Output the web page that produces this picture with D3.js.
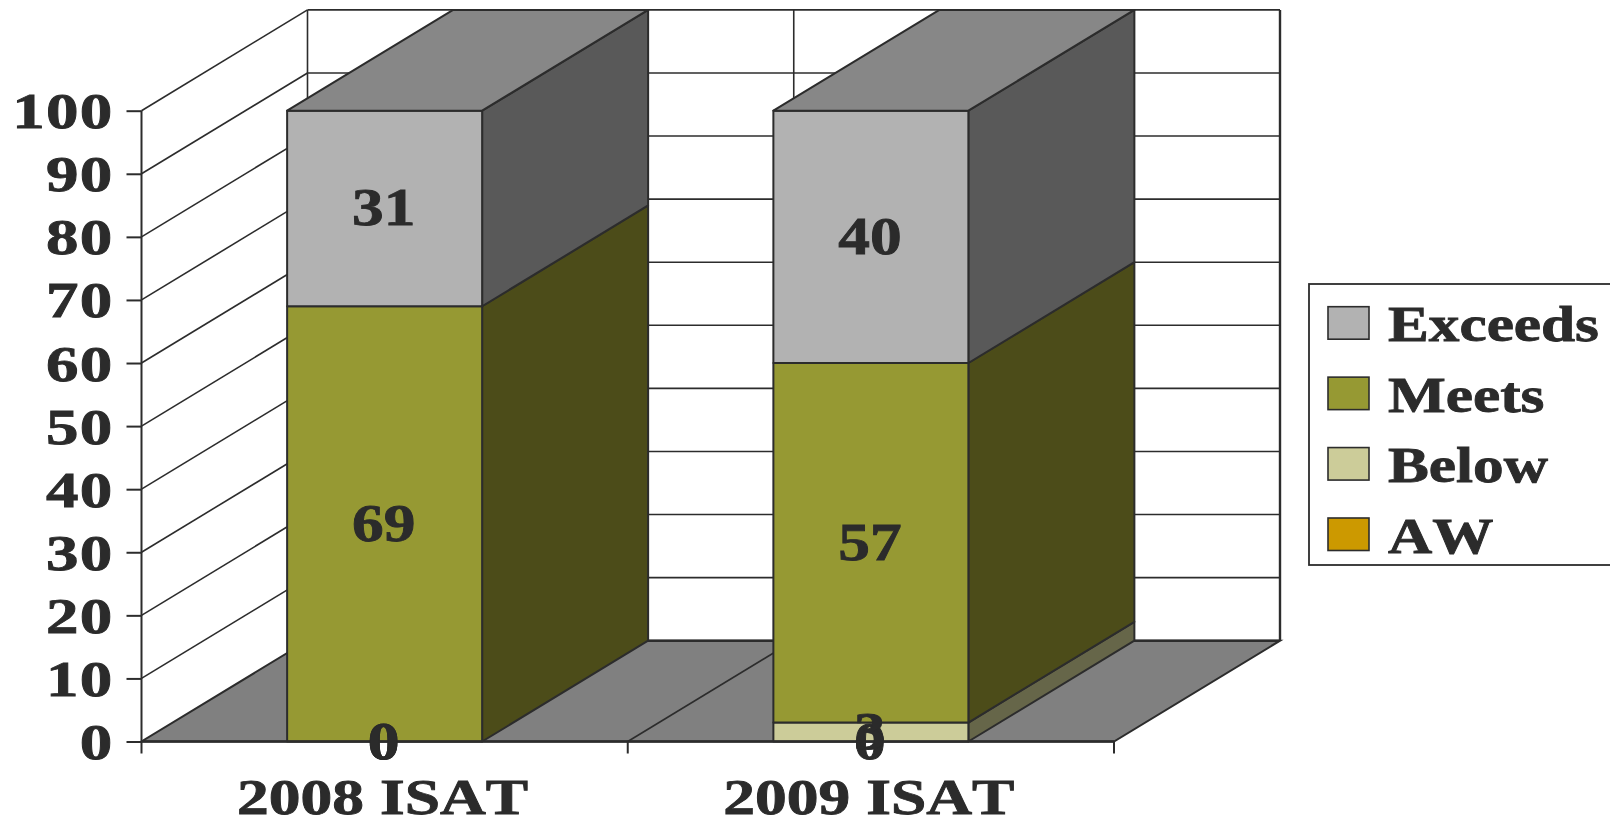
<!DOCTYPE html>
<html>
<head>
<meta charset="utf-8">
<style>
html,body{margin:0;padding:0;background:#fff;overflow:hidden}
svg{display:block}
text{font-family:"Liberation Serif",serif;font-weight:bold;fill:#2b2b2b;stroke:#2b2b2b;stroke-width:0.8px;font-kerning:none}
</style>
<script src="https://cdnjs.cloudflare.com/ajax/libs/d3/7.8.5/d3.min.js"></script>
</head>
<body>
<svg id="chart" width="1610" height="821"></svg>
<script>
// Stacked columns, bottom of the stack first
const categories = ["2008 ISAT", "2009 ISAT"];
const seriesNames = ["AW", "Below", "Meets", "Exceeds"];
const aw = [0, 0];
const below = [0, 3];
const meets = [69, 57];
const exceeds = [31, 40];
const yTicks = [0, 10, 20, 30, 40, 50, 60, 70, 80, 90, 100];
const legendOrder = ["Exceeds", "Meets", "Below", "AW"];

const columns = { AW: aw, Below: below, Meets: meets, Exceeds: exceeds };
const front = { AW: "#cc9900", Below: "#cccc99", Meets: "#969933", Exceeds: "#b2b2b2" };
const side = { AW: "#665000", Below: "#666649", Meets: "#4c4c19", Exceeds: "#595959" };
const topFace = { AW: "#a37a00", Below: "#a3a37a", Meets: "#787a29", Exceeds: "#878787" };
const ink = "#2c2c2c";

// Oblique projection: the depth axis runs up and to the right
const depthX = 166, depthY = 100.8;
const x = d3.scaleBand().domain(categories).range([141.5, 1114]).paddingInner(0).paddingOuter(0);
const y = d3.scaleLinear().domain([0, 100]).range([741.5, 110.7]);
const barWidth = 195;
const barX = c => x(c) + (x.bandwidth() - barWidth) / 2;
const poly = pts => pts.map(p => p.join(",")).join(" ");

const svg = d3.select("#chart");

// Back wall, side wall and floor
const wallLeft = x.range()[0], wallRight = x.range()[1];
svg.append("polygon")
  .attr("points", poly([[wallLeft, y(0)], [wallRight, y(0)], [wallRight + depthX, y(0) - depthY], [wallLeft + depthX, y(0) - depthY]]))
  .attr("fill", "#808080").attr("stroke", ink).attr("stroke-width", 2);

const grid = svg.append("g").attr("stroke", ink).attr("stroke-width", 1.6).attr("fill", "none");
yTicks.filter(t => t > 0).forEach(t => {
  grid.append("line").attr("x1", wallLeft + depthX).attr("x2", wallRight + depthX)
    .attr("y1", y(t) - depthY).attr("y2", y(t) - depthY);
  grid.append("line").attr("x1", wallLeft).attr("x2", wallLeft + depthX)
    .attr("y1", y(t)).attr("y2", y(t) - depthY);
});
[wallLeft, x(categories[1]), wallRight].forEach(px => {
  grid.append("line").attr("x1", px + depthX).attr("x2", px + depthX)
    .attr("y1", y(100) - depthY).attr("y2", y(0) - depthY)
    .attr("stroke-width", px === wallRight ? 2.4 : 1.6);
});
grid.append("line").attr("x1", x(categories[1])).attr("y1", y(0))
  .attr("x2", x(categories[1]) + depthX).attr("y2", y(0) - depthY);
grid.append("line").attr("x1", wallLeft + depthX).attr("x2", wallRight + depthX)
  .attr("y1", y(0) - depthY).attr("y2", y(0) - depthY).attr("stroke-width", 2.4);

// Column segments: side face and front face per series, then the lid
const labels = [];
categories.forEach((c, i) => {
  const g = svg.append("g").attr("stroke", ink).attr("stroke-width", 2).attr("stroke-linejoin", "round");
  const x0 = barX(c), x1 = x0 + barWidth;
  let base = 0, last = null;
  seriesNames.forEach(name => {
    const v = columns[name][i];
    const lo = base, hi = base + v;
    labels.push({ c, v, mid: (lo + hi) / 2 });
    base = hi;
    if (v === 0) return;
    last = name;
    g.append("polygon")
      .attr("points", poly([[x1, y(lo)], [x1 + depthX, y(lo) - depthY], [x1 + depthX, y(hi) - depthY], [x1, y(hi)]]))
      .attr("fill", side[name]);
    g.append("rect").attr("x", x0).attr("y", y(hi)).attr("width", barWidth).attr("height", y(lo) - y(hi))
      .attr("fill", front[name]);
  });
  g.append("polygon")
    .attr("points", poly([[x0, y(base)], [x1, y(base)], [x1 + depthX, y(base) - depthY], [x0 + depthX, y(base) - depthY]]))
    .attr("fill", topFace[last]);
});

// Horizontally widened serif type
const stretch = (sel, sx) => sel.attr("transform", function () {
  const prev = d3.select(this).attr("data-at").split(",");
  return `translate(${prev[0]},${prev[1]}) scale(${sx},1)`;
});

// Value axis
const yAxis = svg.append("g").attr("transform", `translate(${wallLeft},0)`)
  .call(d3.axisLeft(y).tickValues(yTicks).tickSize(15).tickPadding(0).tickFormat(d3.format("d")));
yAxis.select(".domain").attr("stroke", ink).attr("stroke-width", 2).attr("d", `M0,${y(0)}V${y(100)}`);
yAxis.selectAll(".tick line").attr("stroke", ink).attr("stroke-width", 2);
yAxis.selectAll(".tick text")
  .attr("x", null).attr("dy", null).attr("text-anchor", "end")
  .style("font-size", "50px").style("letter-spacing", "1px")
  .attr("data-at", "-28,17").call(stretch, 1.3);

// Category axis
const xAxis = svg.append("g").attr("transform", `translate(0,${y(0)})`)
  .call(d3.axisBottom(x).tickSize(0).tickPadding(0));
xAxis.select(".domain").attr("stroke", ink).attr("stroke-width", 2.4).attr("d", `M${wallLeft},0H${wallRight}`);
xAxis.selectAll(".tick text")
  .attr("y", null).attr("dy", null).attr("text-anchor", "middle")
  .style("font-size", "50px")
  .attr("data-at", "-2,72").call(stretch, 1.27);
const xTicks = svg.append("g").attr("stroke", ink).attr("stroke-width", 2);
[wallLeft, x(categories[1]), wallRight].forEach(px => {
  xTicks.append("line").attr("x1", px).attr("x2", px).attr("y1", y(0)).attr("y2", y(0) + 12);
});

// Value labels sit on the centre of their segment
svg.append("g").selectAll("text").data(labels).join("text")
  .attr("text-anchor", "middle").style("font-size", "52px")
  .attr("transform", d => `translate(${x(d.c) + x.bandwidth() / 2 - 1},${y(d.mid) + 17}) scale(1.22,1)`)
  .text(d => d.v);

// Legend, running off the right-hand edge of the page
const legend = svg.append("g");
legend.append("rect").attr("x", 1309).attr("y", 284).attr("width", 330).attr("height", 281)
  .attr("fill", "#fff").attr("stroke", ink).attr("stroke-width", 1.8);
const legendY = d3.scalePoint().domain(legendOrder).range([306.7, 518]);
legendOrder.forEach(name => {
  legend.append("rect").attr("x", 1328).attr("y", legendY(name)).attr("width", 41).attr("height", 32.5)
    .attr("fill", front[name]).attr("stroke", ink).attr("stroke-width", 1.6);
  legend.append("text").text(name).style("font-size", "50px")
    .attr("transform", `translate(1388,${legendY(name) + 34.5}) scale(1.225,1)`);
});
</script>
</body>
</html>
